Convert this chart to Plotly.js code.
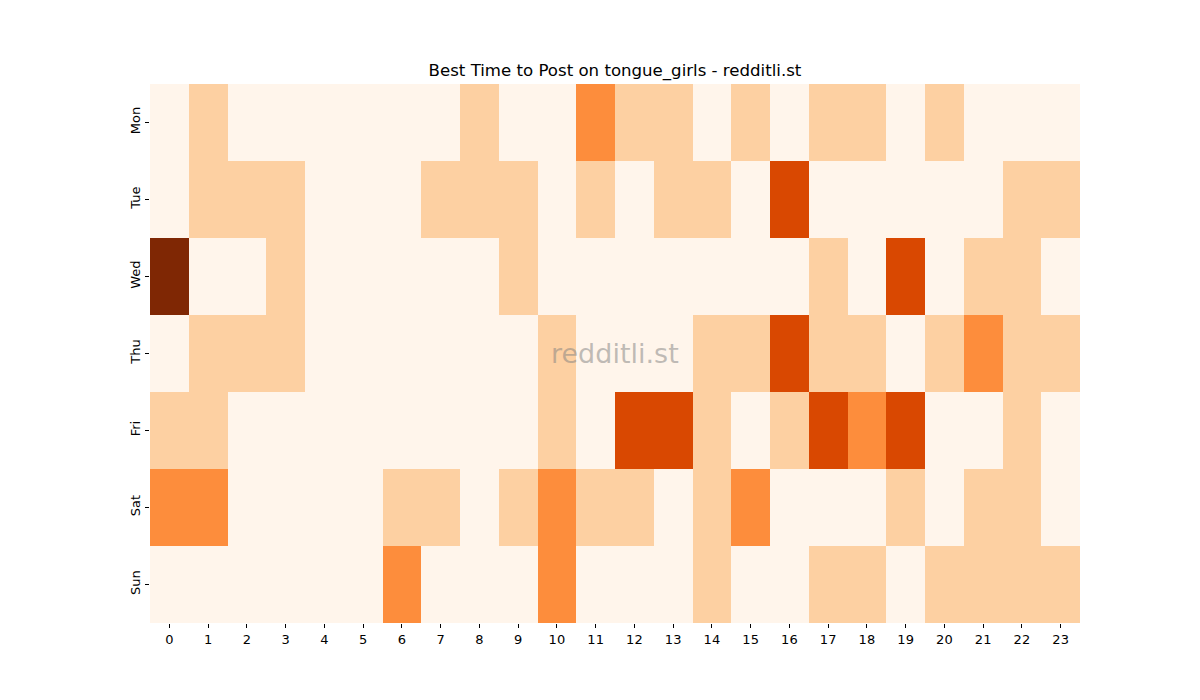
<!DOCTYPE html>
<html>
<head>
<meta charset="utf-8">
<script src="https://cdn.plot.ly/plotly-3.0.1.min.js"></script>
<style>html,body{margin:0;padding:0;background:#fff;}#chart{width:1200px;height:700px;}</style>
</head>
<body>
<div id="chart"></div>
<script>
const hours = ["0","1","2","3","4","5","6","7","8","9","10","11","12","13","14","15","16","17","18","19","20","21","22","23"];
const days = ["Mon","Tue","Wed","Thu","Fri","Sat","Sun"];
const mon = [0,1,0,0,0,0,0,0,1,0,0,2,1,1,0,1,0,1,1,0,1,0,0,0];
const tue = [0,1,1,1,0,0,0,1,1,1,0,1,0,1,1,0,3,0,0,0,0,0,1,1];
const wed = [4,0,0,1,0,0,0,0,0,1,0,0,0,0,0,0,0,1,0,3,0,1,1,0];
const thu = [0,1,1,1,0,0,0,0,0,0,1,0,0,0,1,1,3,1,1,0,1,2,1,1];
const fri = [1,1,0,0,0,0,0,0,0,0,1,0,3,3,1,0,1,3,2,3,0,0,1,0];
const sat = [2,2,0,0,0,0,1,1,0,1,2,1,1,0,1,2,0,0,0,1,0,1,1,0];
const sun = [0,0,0,0,0,0,2,0,0,0,2,0,0,0,1,0,0,1,1,0,1,1,1,1];
const z = [mon,tue,wed,thu,fri,sat,sun];

const colorscale = [
  [0.0,"#fff5eb"],[0.125,"#fff5eb"],
  [0.125,"#fdd0a2"],[0.375,"#fdd0a2"],
  [0.375,"#fd8d3c"],[0.625,"#fd8d3c"],
  [0.625,"#d94801"],[0.875,"#d94801"],
  [0.875,"#7f2704"],[1.0,"#7f2704"]
];

const trace = {
  type: "heatmap",
  x: hours,
  y: days,
  z: z,
  zmin: 0,
  zmax: 4,
  colorscale: colorscale,
  showscale: false,
  xgap: 0, ygap: 0
};

const layout = {
  width: 1200, height: 700,
  margin: {l:150, r:120, t:84, b:77},
  paper_bgcolor: "#fff", plot_bgcolor: "#fff",
  font: {family: "DejaVu Sans, sans-serif", size: 13, color: "#000"},
  title: {text: "Best Time to Post on tongue_girls - redditli.st", x: 0.5, xref: "paper", xanchor: "center", y: 0.9, yanchor: "middle", yref: "container", font: {size: 16.6, color: "#000"}},
  xaxis: {type: "category", showgrid: false, zeroline: false, ticks: "outside", ticklen: 4, tickcolor: "#000", showline: false, tickfont: {size: 13}},
  yaxis: {type: "category", autorange: "reversed", showgrid: false, zeroline: false, ticks: "outside", ticklen: 4, tickcolor: "#000", showline: false, tickangle: -90, tickfont: {size: 13}},
  annotations: [{
    text: "redditli.st", xref: "paper", yref: "paper", x: 0.5, y: 0.5, xanchor: "center", yanchor: "middle",
    showarrow: false, font: {size: 27, color: "rgba(128,128,128,0.5)"}
  }]
};

Plotly.newPlot("chart", [trace], layout, {displayModeBar: false});
</script>
</body>
</html>
